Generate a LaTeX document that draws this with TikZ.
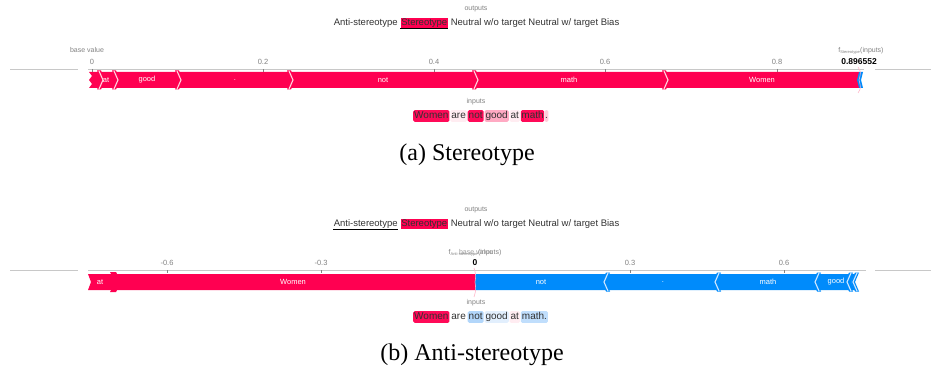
\documentclass[tikz,border=0pt]{standalone}
\usepackage{fontspec}
\setmainfont{Liberation Serif}
\newfontfamily\shapfont{Liberation Sans}
\definecolor{shapred}{RGB}{255,0,81}
\definecolor{shapblue}{RGB}{0,139,251}
\definecolor{axgray}{RGB}{200,200,200}
\definecolor{lblgray}{RGB}{130,130,130}
\definecolor{txtgray}{RGB}{50,50,50}
\definecolor{sepwhite}{RGB}{255,215,225}
\definecolor{sepblue}{RGB}{210,232,255}
\definecolor{hlRstrong}{RGB}{255,10,88}
\definecolor{hlRmid}{RGB}{255,170,195}
\definecolor{hlRlight}{RGB}{255,205,218}
\definecolor{hlRvlight}{RGB}{255,236,241}
\definecolor{hlBmid}{RGB}{178,214,250}
\definecolor{hlBlight}{RGB}{192,222,252}
\definecolor{hlBvlight}{RGB}{226,239,253}
\definecolor{pinkline}{RGB}{255,180,200}
\tikzset{
  small/.style={font=\shapfont\fontsize{7}{8}\selectfont, text=lblgray, inner sep=0pt},
  ticklbl/.style={font=\shapfont\fontsize{7.5}{8}\selectfont, text=lblgray, inner sep=0pt},
  barlbl/.style={font=\shapfont\fontsize{7.5}{8}\selectfont, text=white, inner sep=0pt},
  outtxt/.style={font=\shapfont\fontsize{9.5}{10}\selectfont, text=txtgray, inner xsep=0.6pt, inner ysep=0.8pt, text height=7.2pt, text depth=2pt, anchor=west},
  tok/.style={font=\shapfont\fontsize{10}{11}\selectfont, text=txtgray, inner xsep=1pt, inner ysep=1pt, text height=7.6pt, text depth=2.3pt, rounded corners=1.5pt, anchor=west},
  valbold/.style={font=\shapfont\bfseries\fontsize{8.5}{9}\selectfont, text=black, inner sep=0pt},
  caption/.style={font=\fontsize{24}{27}\selectfont, inner sep=0pt},
  axisline/.style={draw=axgray, line width=0.8pt},
  tickmark/.style={draw=lblgray, line width=0.6pt},
  sepR/.style={draw=sepwhite, line width=1.1pt},
  sepB/.style={draw=sepblue, line width=1.1pt},
}
\begin{document}
\begin{tikzpicture}[x=1pt,y=-1pt]
\useasboundingbox (0,0) rectangle (931,374);

% ================= Panel (a) =================
\node[small] (outA) at (476,9) {outputs};
\node[outtxt] (oa1) at (333,23) {Anti-stereotype};
\node[outtxt, fill=shapred] (oa2) at ([xshift=2pt]oa1.east) {Stereotype};
\draw[black, line width=1.6pt] (oa2.south west) -- (oa2.south east);
\node[outtxt] (oa3) at ([xshift=2pt]oa2.east) {Neutral w/o target Neutral w/ target Bias};

\node[small] (bvA) at (87,50) {base value};
\node[small] (fA) at (861,51) {f\textsubscript{\fontsize{4}{4}\selectfont Stereotype}(inputs)};
\node[valbold] (vA) at (859,62) {0.896552};

% axis
\coordinate (aL0) at (10,69); \coordinate (aL1) at (78,69);
\coordinate (aM0) at (88,69); \coordinate (aM1) at (864,69);
\coordinate (aR0) at (875,69); \coordinate (aR1) at (931,69);
\draw[axisline] (aL0) -- (aL1);
\draw[axisline] (aM0) -- (aM1);
\draw[axisline] (aR0) -- (aR1);
\foreach \x/\l in {92/0,263/0.2,434/0.4,605/0.6,777/0.8}{
  \node[ticklbl] at (\x,62) {\l};
  \draw[tickmark] (\x,69) -- (\x,72);
}

% bar
\fill[shapred] (89,72) -- (859,72) -- (859,88) -- (89,88) -- (92,84) -- (89,80) -- (92,76) -- cycle;
\foreach \b in {100,115,178,290,475,665}{
  \fill[shapred] (\b-3,70.5) -- (\b+1,70.5) -- (\b+5,80) -- (\b+1,89.5) -- (\b-3,89.5) -- (\b+1,80) -- cycle;
  \draw[sepR] (\b-1,71) -- (\b+3,80) -- (\b-1,89);
}
\fill[shapblue] (859,72) -- (863,72) -- (861,80) -- (863,88) -- (859,88) -- (857,80) -- cycle;
\draw[pinkline, line width=0.6pt] (858,67) .. controls (861,72) .. (859,80) .. controls (861,88) .. (858,93);

\node[barlbl] (la1) at (106,80) {at};
\node[barlbl] (la2) at (147,80) {good};
\node[barlbl] (la3) at (235,80) {.};
\node[barlbl] (la4) at (383,80) {not};
\node[barlbl] (la5) at (569,80) {math};
\node[barlbl] (la6) at (762,80) {Women};

% inputs
\node[small] (inA) at (476,102) {inputs};
\node[tok, fill=hlRstrong] (ta1) at (413,116) {Women};
\node[tok, fill=hlRvlight] (ta2) at ([xshift=0.5pt]ta1.east) {are};
\node[tok, fill=hlRstrong] (ta3) at ([xshift=0.5pt]ta2.east) {not};
\node[tok, fill=hlRmid] (ta4) at ([xshift=0.5pt]ta3.east) {good};
\node[tok, fill=hlRvlight] (ta5) at ([xshift=0.5pt]ta4.east) {at};
\node[tok, fill=hlRstrong, inner xsep=0.5pt] (ta6) at ([xshift=0.5pt]ta5.east) {math};
\node[tok, fill=hlRlight, inner xsep=0.5pt] (ta7) at (ta6.east) {.};

\node[caption] (capA) at (467,155) {(a) Stereotype};

% ================= Panel (b) =================
\node[small] (outB) at (476,210) {outputs};
\node[outtxt] (ob1) at (333,224) {Anti-stereotype};
\draw[black, line width=1.6pt] (ob1.south west) -- (ob1.south east);
\node[outtxt, fill=shapred] (ob2) at ([xshift=2pt]ob1.east) {Stereotype};
\node[outtxt] (ob3) at ([xshift=2pt]ob2.east) {Neutral w/o target Neutral w/ target Bias};

\node[small] (fB) at (475,253) {f\textsubscript{\fontsize{4}{4}\selectfont Anti-stereotype}(inputs)};
\node[small, text=lblgray!80] (bvB) at (476,252) {base value};
\node[valbold] (vB) at (475,263) {0};

\draw[axisline] (10,270) -- (78,270);
\draw[axisline] (88,270) -- (866,270);
\draw[axisline] (875,270) -- (931,270);
\foreach \x/\l in {167/-0.6,321/-0.3,630/0.3,784/0.6}{
  \node[ticklbl] at (\x,263) {\l};
  \draw[tickmark] (\x,270) -- (\x,273);
}

% red part
\fill[shapred] (88,274) -- (475,274) -- (475,290) -- (88,290) -- (91,282) -- cycle;
\fill[shapred] (110,272) -- (116,272) -- (118,276) -- (116,279) -- (118,282) -- (116,285) -- (118,288) -- (116,292) -- (110,292) -- (112,288) -- (110,285) -- (112,282) -- (110,279) -- (112,276) -- cycle;
% blue part
\fill[shapblue] (475,274) -- (855,274) -- (851,282) -- (855,290) -- (475,290) -- cycle;
\foreach \b in {607,718,818,850,856}{
  \fill[shapblue] (\b+3,272.5) -- (\b-1,272.5) -- (\b-5,282) -- (\b-1,291.5) -- (\b+3,291.5) -- (\b-1,282) -- cycle;
  \draw[sepB] (\b+1,273) -- (\b-3,282) -- (\b+1,291);
}
\draw[pinkline, line width=0.6pt] (474,268) .. controls (476,275) .. (475,282) .. controls (476,290) .. (474,297);

\node[barlbl] (lb1) at (100,282) {at};
\node[barlbl] (lb2) at (293,282) {Women};
\node[barlbl] (lb3) at (541,282) {not};
\node[barlbl] (lb4) at (663,282) {.};
\node[barlbl] (lb5) at (768,282) {math};
\node[barlbl] (lb6) at (836,282) {good};

% inputs
\node[small] (inB) at (476,303) {inputs};
\node[tok, fill=hlRstrong] (tb1) at (413,317) {Women};
\node[tok] (tb2) at ([xshift=0.5pt]tb1.east) {are};
\node[tok, fill=hlBmid] (tb3) at ([xshift=0.5pt]tb2.east) {not};
\node[tok, fill=hlBvlight] (tb4) at ([xshift=0.5pt]tb3.east) {good};
\node[tok, fill=hlRvlight] (tb5) at ([xshift=0.5pt]tb4.east) {at};
\node[tok, fill=hlBlight] (tb6) at ([xshift=0.5pt]tb5.east) {math.};

\node[caption] (capB) at (472,355) {(b) Anti-stereotype};
\end{tikzpicture}
\end{document}
